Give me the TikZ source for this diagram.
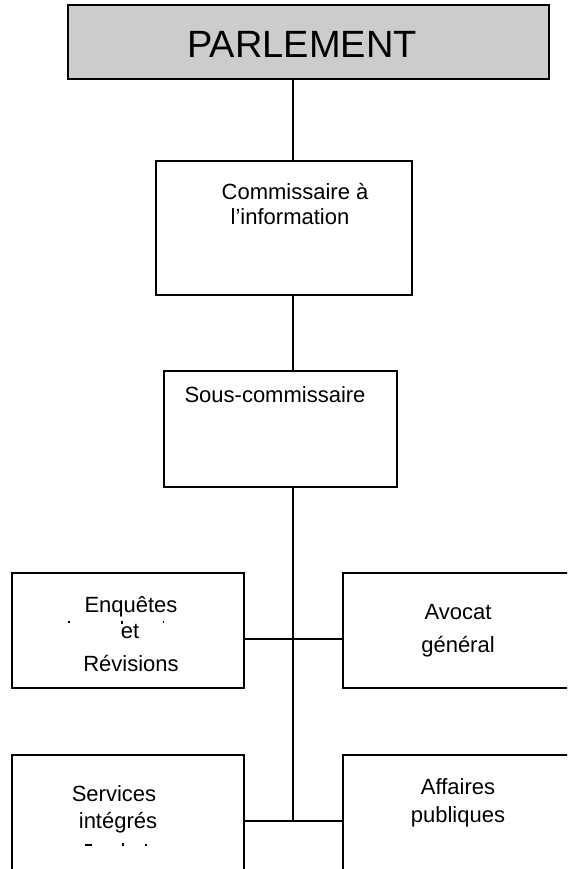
\documentclass[tikz,border=0pt]{standalone}
\usepackage{fontspec}
\setmainfont{Liberation Sans}
\definecolor{parlgray}{RGB}{204,204,204}
\begin{document}
\begin{tikzpicture}[x=1pt,y=-1pt,
  box/.style={draw=black,line width=2pt,inner sep=0pt,fill=white},
  thickbox/.style={box,line width=2.6pt},
  lbl/.style={inner sep=0pt,anchor=base,font=\fontsize{22}{24}\selectfont},
  link/.style={draw=black,line width=2pt},
  frag/.style={fill=black}]
\useasboundingbox (0,0) rectangle (567,869);
\clip (0,0) rectangle (567,869);
\fill[white] (0,0) rectangle (567,869);

% boxes
\node[thickbox,fill=parlgray,minimum width=481pt,minimum height=74pt] (parl) at (308.5,42) {};
\node[thickbox,minimum width=256pt,minimum height=134pt] (comm) at (284,228) {};
\node[box,minimum width=233pt,minimum height=116pt] (sous) at (280.5,429) {};
\node[box,minimum width=232pt,minimum height=115pt] (enq) at (128,630.5) {};
\node[box,minimum width=277pt,minimum height=115pt] (avo) at (481.5,630.5) {};
\node[box,minimum width=232pt,minimum height=165pt] (serv) at (128,837.5) {};
\node[box,minimum width=277pt,minimum height=165pt] (aff) at (481.5,837.5) {};

% texts
\node[lbl,font=\fontsize{38}{40}\selectfont] (parlt) at (302,58) {PARLEMENT};
\node[lbl] (comm1) at (295,200) {Commissaire à};
\node[lbl] (comm2) at (290,224) {l’information};
\node[lbl] (sous1) at (275,402) {Sous-commissaire};
\node[lbl] (enq1) at (131,612) {Enquêtes};
\node[lbl] (enq2) at (130,638) {et};
\node[lbl] (enq3) at (131,671) {Révisions};
\node[lbl] (avo1) at (458,619) {Avocat};
\node[lbl] (avo2) at (458,652) {général};
\node[lbl] (serv1) at (114,801) {Services};
\node[lbl] (serv2) at (118,828) {intégrés};
\node[lbl] (aff1) at (458,794) {Affaires};
\node[lbl] (aff2) at (458,822) {publiques};

% fragments of clipped text
\fill[frag] (68,621) rectangle (69.5,623);
\fill[frag] (121,621) rectangle (123,623.5);
\fill[frag] (162.5,621) rectangle (164,623);
\fill[frag] (85,844) rectangle (92,845.5);
\fill[frag] (122,843) rectangle (124,846);
\fill[frag] (145,844) rectangle (147,846);

% connectors
\coordinate (spine) at (293,0);
\coordinate (j1) at (293,639);
\coordinate (j2) at (293,821);
\draw[link] (parl.south -| spine) -- (comm.north -| spine);
\draw[link] (comm.south -| spine) -- (sous.north -| spine);
\draw[link] (sous.south -| spine) -- (j2);
\draw[link] (enq.east |- j1) -- (avo.west |- j1);
\draw[link] (serv.east |- j2) -- (aff.west |- j2);
\end{tikzpicture}
\end{document}
